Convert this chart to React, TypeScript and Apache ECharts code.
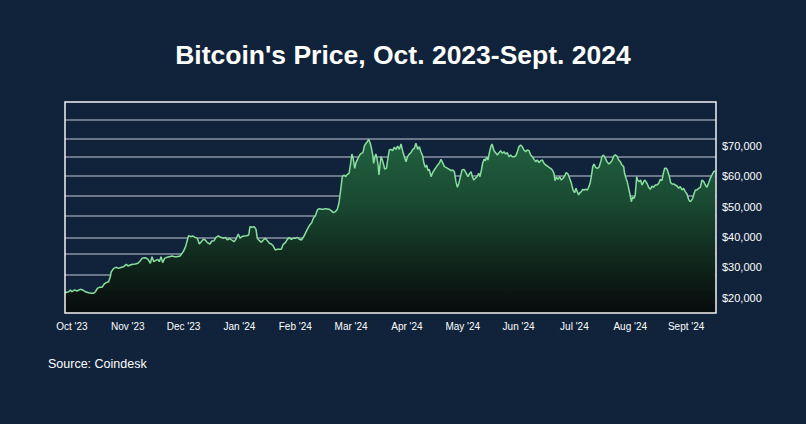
import React, { useEffect, useRef } from 'react';
import * as echarts from 'echarts';

const TITLE = "Bitcoin's Price, Oct. 2023-Sept. 2024";
const SOURCE = 'Source: Coindesk';
const MONTH_LABELS = ["Oct '23", "Nov '23", "Dec '23", "Jan '24", "Feb '24", "Mar '24", "Apr '24", "May '24", "Jun '24", "Jul '24", "Aug '24", "Sept '24"];
const Y_TICKS = [20000, 30000, 40000, 50000, 60000, 70000];
const GRID_LINES = [27600, 34400, 39900, 46900, 53500, 60100, 66600, 72400, 78600];

// days since 1 Oct 2023
const DAYS = [
  0, 2.1, 3.0, 3.9, 5.4, 6.7, 8.6, 9.9, 11.4, 13.3, 14.8, 16.1, 17.1, 18.2, 19.3, 20.8, 22.1, 23.2, 24.5, 25.5,
  26.0, 27.4, 28.7, 30.2, 31.7, 33.0, 34.5, 35.4, 36.7, 38.0, 39.5, 41.0, 42.4, 43.3, 45.2, 46.7, 48.0, 48.9, 49.9, 50.8,
  52.1, 53.0, 54.0, 54.9, 56.0, 57.3, 58.7, 60.2, 61.3,
  62.8, 64.7, 66.5, 67.8, 68.8, 69.5, 70.7, 71.8, 73.1, 74.4, 75.5, 76.6, 77.8, 78.9, 80.0, 81.5, 82.6, 83.8, 84.9, 86.2,
  87.5, 89.0, 90.1, 91.3, 92.4, 93.7, 95.0, 96.1, 97.4, 98.4, 99.3, 100.6, 102.1, 103.3, 104.0, 105.1, 106.4, 107.4, 108.1, 109.3,
  110.4, 111.5, 112.6, 113.8, 114.9, 116.0, 117.1, 118.2, 119.4, 120.5,
  121.6, 122.7, 123.9, 125.0, 126.1, 127.2, 128.4, 129.5, 130.6, 131.7, 132.9, 134.0, 135.1, 136.2, 137.6, 138.7, 139.6, 140.7, 141.9, 143.0,
  144.1, 145.2, 146.4, 147.5, 148.6, 149.7, 150.9, 152.0, 153.1, 154.0, 155.0, 155.9, 156.9, 157.8, 158.7, 159.7, 160.6, 161.3, 162.1, 162.9,
  163.6, 164.7, 165.7, 166.6, 167.5, 168.3, 169.2, 170.0, 170.7, 171.5, 172.2, 173.0, 173.5, 174.3, 174.8, 175.4, 176.0, 176.5, 177.1, 177.7,
  178.4, 179.2, 179.7, 180.7,
  181.4, 182.3, 183.3, 184.2, 185.1, 186.1, 187.0, 188.0, 188.9, 189.8, 190.8, 191.7, 192.6, 193.6, 194.5, 195.5, 196.4, 197.3, 198.3, 199.2,
  200.1, 201.1, 201.8, 202.6, 203.3, 204.1, 204.8, 205.8, 206.7, 207.6, 208.6, 209.5, 210.4, 211.4, 212.3, 213.3, 214.2, 215.1, 216.1, 217.0,
  218.0, 218.9, 219.8, 220.6, 221.3, 222.1, 223.2, 224.3, 225.4, 226.6, 227.3, 228.3, 229.0, 229.8, 230.7, 231.6, 232.6, 233.3, 234.1, 234.8,
  235.6, 236.3, 237.1, 237.8, 238.6, 239.5, 240.1, 240.8,
  241.2, 242.1, 243.1, 244.0, 244.9, 245.9, 246.8, 247.7, 248.7, 249.6, 250.6, 251.5, 252.4, 253.4, 254.3, 255.2, 256.2, 257.1, 258.0, 259.0,
  259.9, 260.9, 261.8, 262.7, 263.7, 264.6, 265.5, 266.5, 267.4, 268.4, 269.3, 270.2, 271.2, 272.1, 273.0, 274.0, 274.9, 275.5, 276.2, 277.2,
  278.1, 279.0, 280.0, 280.9, 281.8, 282.8, 283.7, 284.7, 285.6, 286.5, 287.3, 288.0, 288.8, 289.5, 290.3, 291.0, 291.8, 292.7, 293.7, 294.4,
  295.2, 295.9, 296.7, 297.4, 298.3, 299.3, 300.2, 301.2,
  301.9, 302.8, 303.8, 304.7, 305.7, 306.6, 307.5, 308.5, 309.4, 310.3, 311.3, 312.2, 313.1, 314.1, 314.6, 315.4, 316.1, 316.9, 317.6, 318.4,
  319.1, 319.9, 320.6, 321.4, 322.1, 322.9, 323.6, 324.4, 325.1, 325.9, 326.6, 327.4, 328.1, 329.1, 330.0, 330.9, 331.9, 332.8, 333.8, 334.7,
  335.6, 336.4, 337.1, 338.1, 338.8, 339.8, 340.5, 341.3, 342.2, 343.1, 344.1, 345.0, 345.9, 346.9, 347.8, 348.7, 349.7, 350.6, 351.4, 352.1,
  352.9, 353.6, 354.4, 355.3, 356.2, 357.2, 358.1, 359.1, 360.0, 360.9, 361.9, 362.8, 363.7, 364.7, 365.6,
];

const PRICES = [
  21700, 22000, 22600, 22000, 22600, 22250, 22800, 22600, 22000, 21700, 21480, 21500, 22000, 23100, 23460, 23450, 24560, 25000, 25300, 27000,
  28600, 29700, 30050, 29700, 30050, 30260, 31030, 30480, 30810, 31030, 31140, 31360, 32240, 33010, 33230, 32680, 31360, 33560, 31910, 32240,
  32680, 31910, 33560, 31580, 33010, 33340, 33560, 33780, 33560,
  33560, 33780, 35200, 36850, 39050, 40470, 40140, 40360, 39930, 39600, 37730, 38500, 39270, 39050, 38170, 37730, 38720, 38830, 39930, 40360,
  39930, 39600, 39930, 39050, 39600, 39050, 38500, 39270, 41020, 39600, 40140, 40360, 40470, 40690, 43440, 43220, 43440, 42560, 39600, 38830,
  38280, 39050, 39600, 38830, 37950, 37730, 37070, 35750, 35970, 35970,
  35970, 37620, 38170, 39270, 39820, 39270, 39600, 39600, 39930, 39270, 39050, 39930, 41240, 42560, 43990, 44760, 46180, 46950, 48930, 49370,
  49150, 49150, 49370, 49260, 49150, 48710, 48050, 48380, 49150, 51130, 55520, 59910, 60460, 59910, 60680, 61010, 64300, 67370, 65620, 62650,
  64520, 65950, 67050, 67590, 67810, 70010, 70890, 71440, 72200, 71100, 69570, 67050, 64300, 66490, 67370, 65950, 63750, 60460, 63750, 66490,
  65400, 63750, 62430, 62650,
  65400, 68690, 68910, 68470, 69570, 68910, 70010, 68910, 70670, 68470, 66490, 64850, 66490, 67370, 67810, 68910, 69240, 70890, 68910, 69790,
  68140, 66710, 64300, 62980, 63750, 61880, 62320, 59910, 61230, 62100, 62980, 63750, 64300, 65620, 64520, 63200, 62980, 62650, 62320, 61880,
  62100, 61550, 58260, 56400, 57490, 59360, 62100, 62320, 61230, 59910, 60790, 61550, 59910, 58810, 59360, 59910, 61010, 59910, 62100, 64300,
  65620, 65180, 66280, 65400, 67810, 70010, 70670, 69240,
  68470, 67810, 67050, 67810, 68470, 67590, 68140, 67370, 67810, 66490, 67050, 66490, 66490, 66710, 68140, 69790, 70340, 69790, 68690, 68140,
  68690, 68470, 67050, 66490, 65620, 64850, 65400, 64520, 65180, 65400, 64300, 63750, 63420, 62980, 62650, 62100, 61010, 58590, 59690, 59030,
  59910, 58810, 59360, 60130, 61230, 60790, 59360, 57710, 55520, 54640, 56070, 54970, 53870, 54640, 54970, 55740, 55520, 55740, 55520, 56400,
  57710, 59910, 63200, 64080, 62980, 62650, 62980, 64850,
  66490, 67050, 65950, 64850, 64080, 64520, 65180, 66710, 67050, 66710, 65400, 64850, 63750, 63200, 61010, 59360, 58260, 56070, 54200, 51670,
  53100, 52770, 53870, 59910, 58590, 58260, 58810, 57160, 57930, 58810, 58260, 57490, 56400, 55740, 56840, 56400, 57160, 57160, 57710, 59030,
  58590, 61010, 62650, 62650, 61880, 59910, 57930, 57490, 57490, 57160, 56840, 56070, 56620, 55520, 56070, 54970, 54200, 52440, 51670, 52000,
  52770, 54200, 55520, 55520, 56070, 56400, 58810, 58260, 57160, 56400, 57930, 59360, 60460, 61550, 61770,
];

const FONT = '"Liberation Sans", Arial, Helvetica, sans-serif';

export default function App() {
  const ref = useRef<HTMLDivElement>(null);

  useEffect(() => {
    document.body.style.margin = '0';
    const chart = echarts.init(ref.current as HTMLDivElement, null, { renderer: 'svg' });
    const data = DAYS.map((d, i) => [d, PRICES[i]]);
    chart.setOption({
      animation: false,
      backgroundColor: '#10233a',
      textStyle: { fontFamily: FONT },
      graphic: [
        {
          type: 'text', x: 403, y: 55, z: 10,
          style: { text: TITLE, fill: '#ffffff', font: `bold 26.5px ${FONT}`, textAlign: 'center', textVerticalAlign: 'middle' },
        },
        {
          type: 'text', x: 48, y: 364, z: 10,
          style: { text: SOURCE, fill: '#ffffff', font: `12.5px ${FONT}`, textAlign: 'left', textVerticalAlign: 'middle' },
        },
      ],
      grid: [
        { left: 65, top: 102, width: 651, height: 211, show: true, z: 10, borderColor: '#f2f2f2', borderWidth: 1.5, backgroundColor: 'transparent' },
        { left: 44, top: 102, width: 670, height: 211, show: false },
      ],
      xAxis: [
        { gridIndex: 0, type: 'value', min: 0, max: 366, show: false },
        {
          gridIndex: 1, type: 'category', data: MONTH_LABELS, boundaryGap: true,
          axisLine: { show: false }, axisTick: { show: false }, splitLine: { show: false },
          axisLabel: { color: '#ffffff', fontSize: 10, margin: 8, interval: 0, fontFamily: FONT },
        },
      ],
      yAxis: [
        {
          gridIndex: 0, type: 'value', position: 'right', min: 15000, max: 84500, splitNumber: 7,
          axisLine: { show: false }, axisTick: { show: false }, splitLine: { show: false },
          axisLabel: {
            color: '#ffffff', fontSize: 11, margin: 6, fontFamily: FONT, showMinLabel: false, showMaxLabel: false,
            formatter: (v: number) => (Y_TICKS.includes(v) ? '$' + v / 1000 + ',000' : ''),
          },
        },
        { gridIndex: 1, type: 'value', show: false },
      ],
      series: [
        {
          type: 'line', xAxisIndex: 0, yAxisIndex: 0, data: [], silent: true, z: 1,
          markLine: {
            silent: true, symbol: 'none', z: 1, animation: false,
            label: { show: false },
            lineStyle: { color: '#8a95a4', width: 1.5, type: 'solid' },
            data: GRID_LINES.map((v) => ({ yAxis: v })),
          },
        },
        {
          type: 'line', xAxisIndex: 0, yAxisIndex: 0, data, showSymbol: false, symbol: 'none', z: 3,
          lineStyle: { color: '#8ade9f', width: 1.5 },
          areaStyle: {
            origin: 'start', opacity: 1,
            color: new echarts.graphic.LinearGradient(0, 0, 0, 1, [
              { offset: 0, color: '#216140' },
              { offset: 0.35, color: '#1a4b33' },
              { offset: 0.7, color: '#10271c' },
              { offset: 1, color: '#080b0c' },
            ]),
          },
        },
      ],
    });
    return () => chart.dispose();
  }, []);

  return <div ref={ref} style={{ width: 806, height: 424 }} />;
}
